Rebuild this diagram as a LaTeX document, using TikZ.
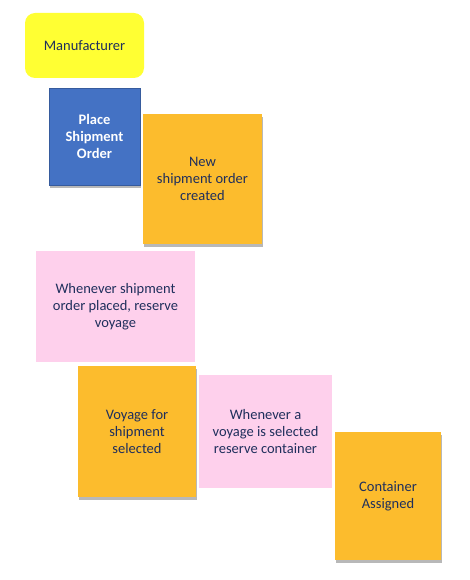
\documentclass[tikz,border=0pt]{standalone}
\usepackage{fontspec}
\setmainfont{Carlito}
\usetikzlibrary{shadows}
\definecolor{stickytext}{HTML}{1F2F5C}
\definecolor{actoryellow}{HTML}{FFFF33}
\definecolor{cmdblue}{HTML}{4472C4}
\definecolor{eventorange}{HTML}{FCBC2D}
\definecolor{policypink}{HTML}{FED0EC}

\begin{document}
\begin{tikzpicture}[x=1pt,y=-1pt,
  sticky/.style={inner sep=0pt,align=center,text=stickytext,
    font=\fontsize{14.5}{17}\selectfont},
  stickyshadow/.style={drop shadow={shadow xshift=1pt,shadow yshift=-3pt,
    fill=black,opacity=0.28}},
  actor/.style={sticky,fill=actoryellow,rounded corners=10pt},
  command/.style={sticky,stickyshadow,fill=cmdblue,draw=cmdblue!80!black,
    text=white,font=\fontsize{14.5}{17}\selectfont\bfseries},
  event/.style={sticky,stickyshadow,fill=eventorange},
  policy/.style={sticky,fill=policypink}]
\useasboundingbox (0,0) rectangle (470,580);
\node [actor,minimum width=119pt,minimum height=65pt] (M) at (84.5,45.5) {Manufacturer};
\node [command,minimum width=91pt,minimum height=97pt] (P) at (94.5,136.5) {Place\\Shipment\\Order};
\node [event,minimum width=119pt,minimum height=130pt] (N) at (202.5,179) {New\\shipment order\\created};
\node [policy,minimum width=159pt,minimum height=111pt] (W) at (115.5,306.5) {Whenever shipment\\order placed, reserve\\voyage};
\node [event,minimum width=118pt,minimum height=131pt] (V) at (137,431.5) {Voyage for\\shipment\\selected};
\node [policy,minimum width=133pt,minimum height=113pt] (R) at (265.5,431.5) {Whenever a\\voyage is selected\\reserve container};
\node [event,minimum width=106pt,minimum height=128pt] (C) at (388,496) {Container\\Assigned};
\end{tikzpicture}
\end{document}
